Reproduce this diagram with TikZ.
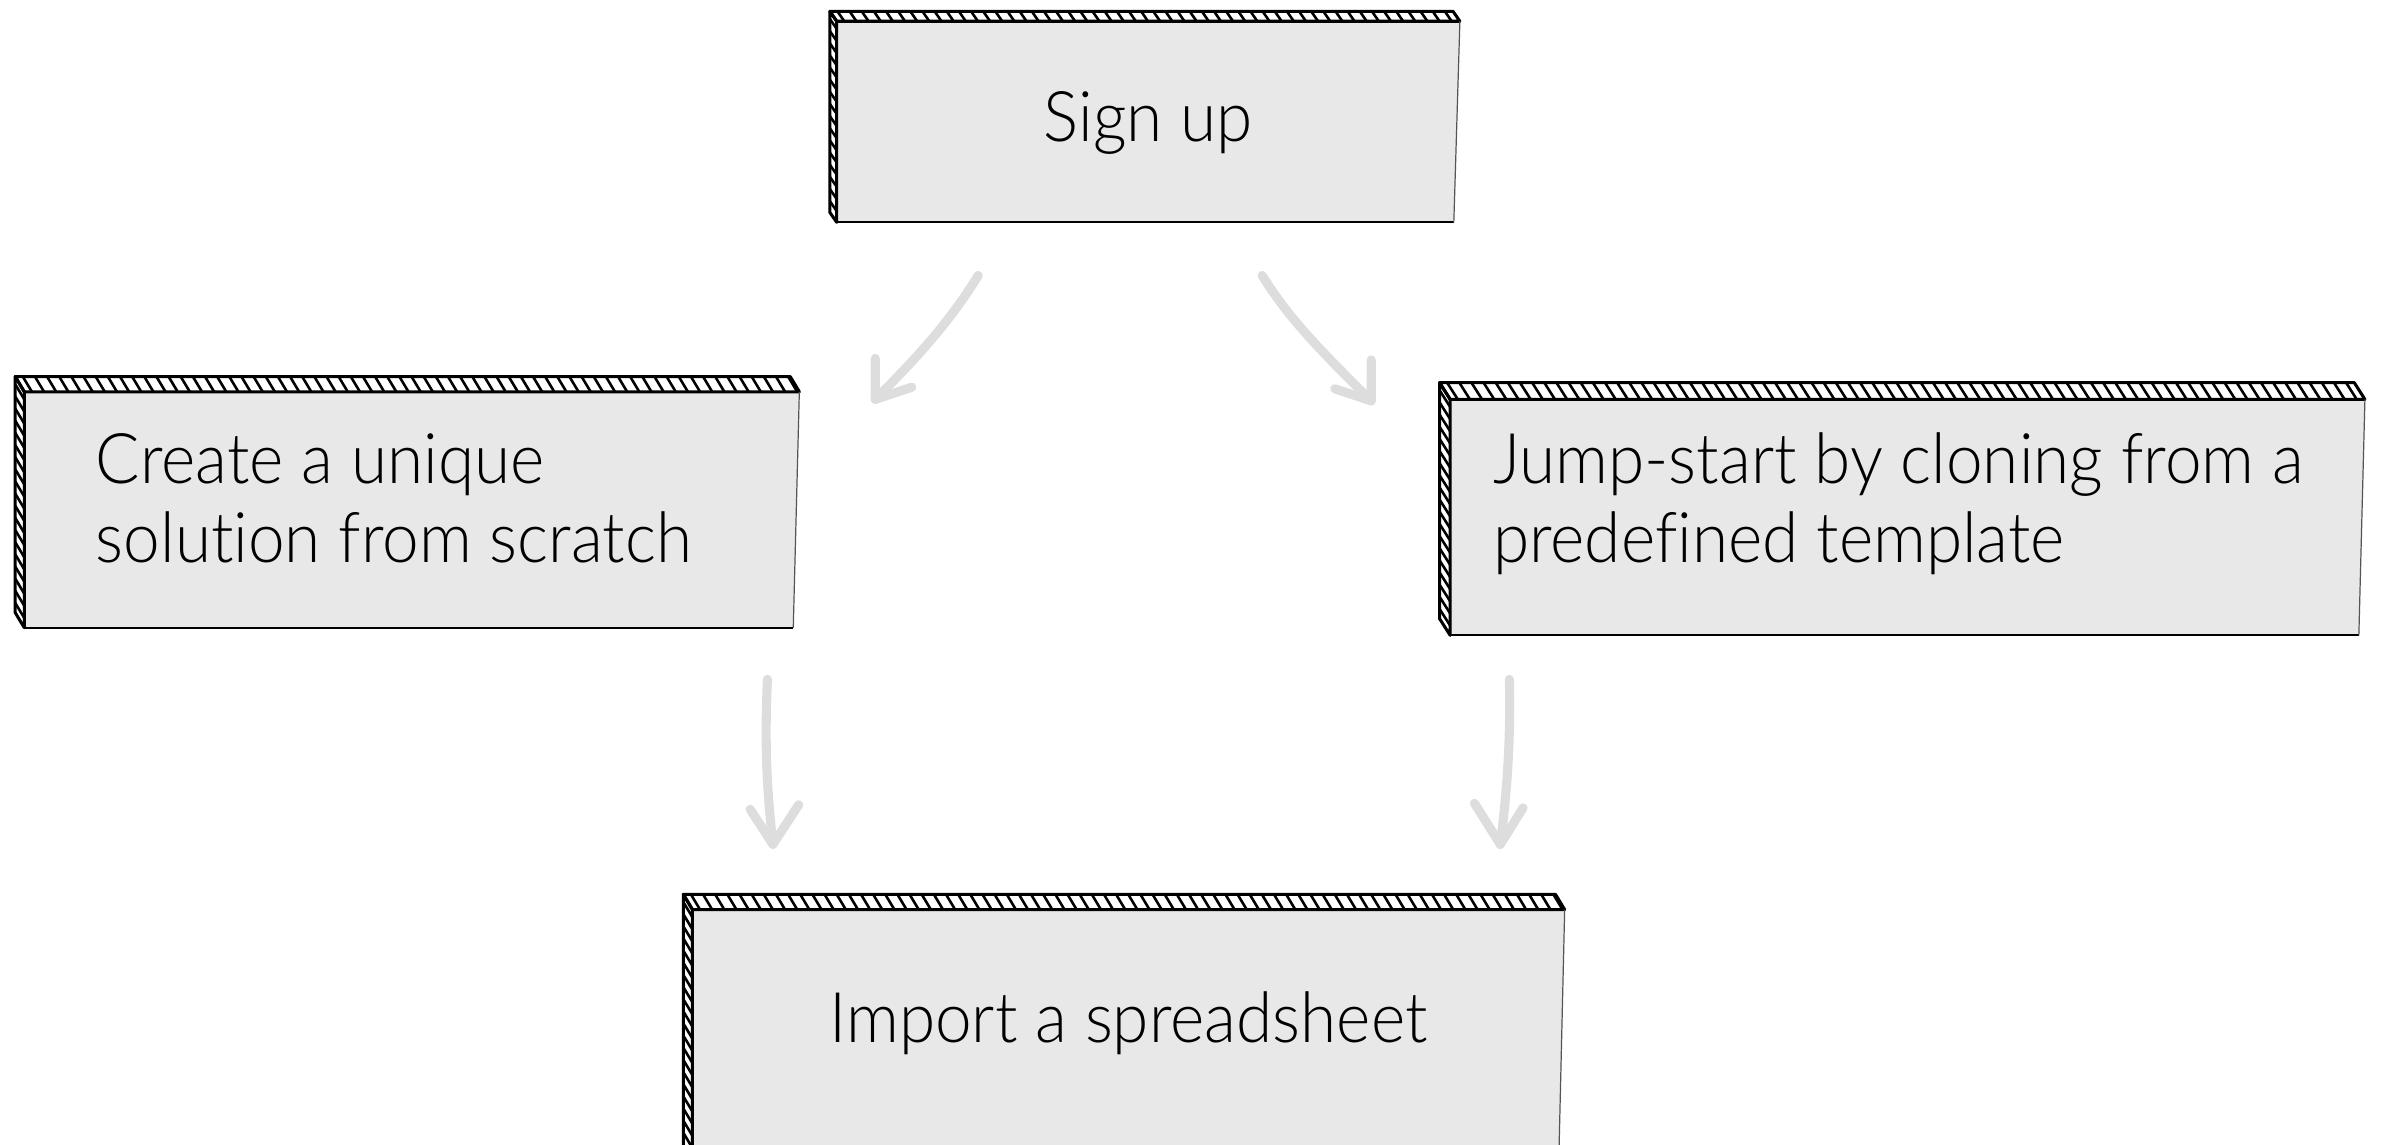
\documentclass[tikz,border=0pt]{standalone}
\usepackage{fontspec}
\setmainfont{Lato Light}[FakeStretch=0.94, Ligatures=NoCommon]
\usetikzlibrary{calc}

\definecolor{facegray}{HTML}{E8E8E8}
\definecolor{arrowgray}{HTML}{DDDDDD}
\definecolor{edgegray}{HTML}{555555}

\tikzset{
  slabface/.style={fill=facegray, inner sep=0pt, anchor=north west,
    font=\fontsize{46}{52}\selectfont},
  flowarrow/.style={draw=arrowgray, line width=6pt, line cap=round, line join=round},
  hatchline/.style={draw=black, line width=1.7pt},
  slabedge/.style={draw=black, line width=2pt, line join=round},
}

% Extruded sides of a slab: #1 node, #2 dx, #3 dy, #4 width, #5 height
\newcommand\slabsides[5]{%
  \fill[white] (#1.north west) -- (#1.north east) -- ($(#1.north east)+(-#2,-#3)$)
     -- ($(#1.north west)+(-#2,-#3)$) -- cycle;
  \fill[white] (#1.north west) -- ($(#1.north west)+(-#2,-#3)$)
     -- ($(#1.south west)+(-#2,-#3)$) -- (#1.south west) -- cycle;
  \foreach \t in {5,13,...,#4} {
    \draw[hatchline] ($(#1.north west)+(\t-#2,-#3)$) -- ($(#1.north west)+(\t,0)$);
  }
  \foreach \t in {5,13,...,#5} {
    \draw[hatchline] ($(#1.north west)+(-#2,\t-#3)$) -- ($(#1.north west)+(0,\t)$);
  }
  \draw[slabedge] (#1.north west) -- (#1.north east) -- ($(#1.north east)+(-#2,-#3)$)
     -- ($(#1.north west)+(-#2,-#3)$) -- cycle;
  \draw[slabedge] (#1.north west) -- ($(#1.north west)+(-#2,-#3)$)
     -- ($(#1.south west)+(-#2,-#3)$) -- (#1.south west) -- cycle;
  \draw[black, line width=1.5pt] (#1.south west) -- ($(#1.south east)+(-4,0)$);
  \draw[edgegray, line width=0.8pt] (#1.north east) -- ($(#1.south east)+(-4,0)$);
}

\begin{document}
\begin{tikzpicture}[x=1pt, y=-1pt]
  \useasboundingbox (0,0) rectangle (1568,754);
  \clip (0,0) rectangle (1568,754);

  % front faces with their texts
  \node[slabface, text height=79pt, text depth=53pt] (signup) at (551,14)
    {\makebox[410pt]{Sign up}};
  \node[slabface, text height=60pt, text depth=95pt] (create) at (16,258)
    {\makebox[510pt][l]{\hspace{47pt}\vtop{\hbox{Create a unique}\hbox{solution from scratch}}}};
  \node[slabface, text height=55pt, text depth=100pt] (jump) at (955,263)
    {\makebox[602pt][l]{\hspace{28pt}\vtop{\hbox{Jump-start by cloning from a}\hbox{predefined template}}}};
  \node[slabface, text height=87pt, text depth=83pt] (import) at (456,599)
    {\makebox[574pt]{Import a spreadsheet}};

  % white front faces are trimmed on the right by a slanted edge
  \foreach \n in {signup,create,jump,import} {
    \fill[white] (\n.north east) -- ($(\n.south east)+(-4,0)$) -- ($(\n.south east)+(1,1)$)
      -- ($(\n.north east)+(1,0)$) -- cycle;
  }

  % hatched sides
  \slabsides{signup}{4.5}{6.5}{410}{132}
  \slabsides{create}{6}{10}{510}{155}
  \slabsides{jump}{7}{11}{602}{155}
  \slabsides{import}{6}{10}{574}{170}

  % connector end points
  \coordinate (a1s) at ($(signup.south)+(-112,35)$);
  \coordinate (a1t) at ($(create.north east)+(50,5)$);
  \coordinate (a2s) at ($(signup.south)+(75,35)$);
  \coordinate (a2t) at ($(jump.north west)+(-52,1)$);
  \coordinate (a3s) at ($(create.south east)+(-21,34)$);
  \coordinate (a3t) at ($(import.north west)+(53,-43)$);
  \coordinate (a4s) at ($(jump.south west)+(39,29)$);
  \coordinate (a4t) at ($(import.north west)+(532,-43)$);

  % hand-drawn arrows
  \draw[flowarrow] (a1s) .. controls ($(a1s)+(-19,31)$) and ($(a1t)+(27,-27)$) .. (a1t);
  \draw[flowarrow] ($(a1t)+(0,-27)$) -- (a1t) -- ($(a1t)+(24,-8)$);

  \draw[flowarrow] (a2s) .. controls ($(a2s)+(19,31)$) and ($(a2t)+(-27,-27)$) .. (a2t);
  \draw[flowarrow] ($(a2t)+(0,-27)$) -- (a2t) -- ($(a2t)+(-24,-8)$);

  \draw[flowarrow] (a3s) .. controls ($(a3s)+(-2,43)$) and ($(a3t)+(-4,-36)$) .. (a3t);
  \draw[flowarrow] ($(a3t)+(-15,-23)$) -- (a3t) -- ($(a3t)+(17,-26)$);

  \draw[flowarrow] (a4s) .. controls ($(a4s)+(1,43)$) and ($(a4t)+(4,-31)$) .. (a4t);
  \draw[flowarrow] ($(a4t)+(-17,-27)$) -- (a4t) -- ($(a4t)+(15,-24)$);
\end{tikzpicture}
\end{document}
